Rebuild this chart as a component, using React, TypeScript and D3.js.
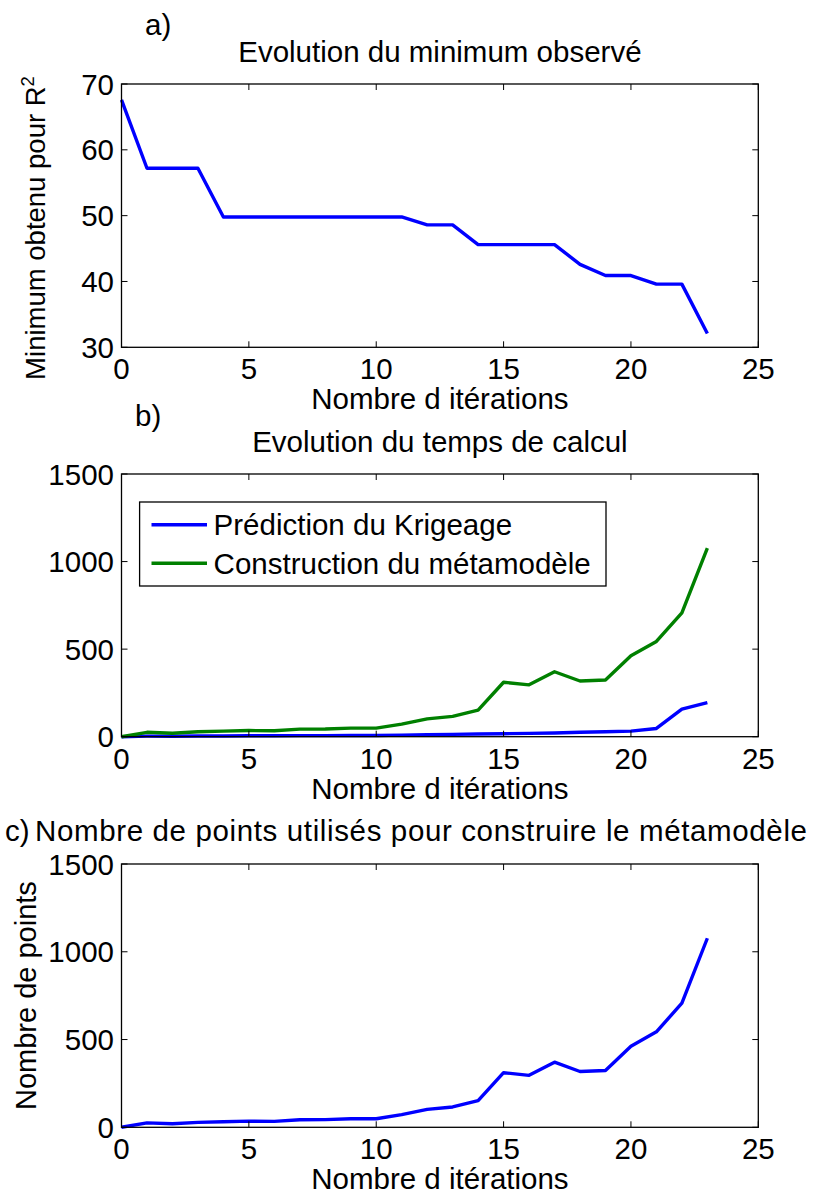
import React from "react";
import * as d3 from "d3";

const iterations = d3.range(0, 24);
const minObserved = [67.6, 57.2, 57.2, 57.2, 49.8, 49.8, 49.8, 49.8, 49.8, 49.8, 49.8, 49.8, 48.6, 48.6, 45.6, 45.6, 45.6, 45.6, 42.6, 40.9, 40.9, 39.6, 39.6, 32.1];
const krigingTime = [0, 3, 3, 4, 4, 5, 5, 6, 6, 7, 7, 9, 11, 13, 15, 17, 19, 21, 25, 28, 32, 47, 157, 195];
const buildTime = [0, 25, 20, 28, 32, 35, 34, 43, 44, 49, 49, 72, 102, 116, 152, 311, 296, 371, 318, 324, 462, 544, 707, 1077];
const nbPoints = [0, 25, 20, 28, 32, 35, 34, 43, 44, 49, 49, 72, 102, 116, 152, 311, 296, 371, 318, 324, 462, 544, 707, 1077];

const xTicks = [0, 5, 10, 15, 20, 25];
const yTicksA = [30, 40, 50, 60, 70];
const yTicksBC = [0, 500, 1000, 1500];

const FONT = "'Liberation Sans', Arial, Helvetica, sans-serif";
const FS = 29.5;
const BLUE = "#0000ff";
const GREEN = "#008000";

const X0 = 121.5;
const X1 = 758.3;

type Series = { values: number[]; color: string };

function Panel({ top, bottom, yDomain, yTicks, series }: { top: number; bottom: number; yDomain: [number, number]; yTicks: number[]; series: Series[] }) {
  const x = d3.scaleLinear().domain([0, 25]).range([X0, X1]);
  const y = d3.scaleLinear().domain(yDomain).range([bottom, top]);
  const line = (vals: number[]) =>
    d3.line<number>().x((_, i) => x(iterations[i])).y((v) => y(v))(vals) || "";
  const tl = 6;
  return (
    <g>
      {series.map((s, i) => (
        <path key={i} d={line(s.values)} fill="none" stroke={s.color} strokeWidth={3.4} strokeLinejoin="round" />
      ))}
      <rect x={X0} y={top} width={X1 - X0} height={bottom - top} fill="none" stroke="#000" strokeWidth={1.3} />
      {xTicks.map((t) => (
        <g key={"x" + t}>
          <line x1={x(t)} x2={x(t)} y1={bottom} y2={bottom - tl} stroke="#000" strokeWidth={1} />
          <line x1={x(t)} x2={x(t)} y1={top} y2={top + tl} stroke="#000" strokeWidth={1} />
          <text x={x(t)} y={bottom + 32} textAnchor="middle" fontSize={FS} fontFamily={FONT}>{t}</text>
        </g>
      ))}
      {yTicks.map((t) => (
        <g key={"y" + t}>
          <line x1={X0} x2={X0 + tl} y1={y(t)} y2={y(t)} stroke="#000" strokeWidth={1} />
          <line x1={X1} x2={X1 - tl} y1={y(t)} y2={y(t)} stroke="#000" strokeWidth={1} />
          <text x={114} y={y(t) + 10.5} textAnchor="end" fontSize={FS} fontFamily={FONT}>{t}</text>
        </g>
      ))}
      <text x={(X0 + X1) / 2} y={bottom + 62} textAnchor="middle" fontSize={FS} fontFamily={FONT}>Nombre d itérations</text>
    </g>
  );
}

export default function App() {
  const cx = (X0 + X1) / 2;
  return (
    <svg width={815} height={1197} style={{ position: "absolute", left: 0, top: 0, background: "#fff" }}>
      <rect width={815} height={1197} fill="#fff" />
      {/* Panel a */}
      <text x={145} y={35} fontSize={FS} fontFamily={FONT}>a)</text>
      <text x={cx} y={62} textAnchor="middle" fontSize={FS} fontFamily={FONT}>Evolution du minimum observé</text>
      <Panel top={84} bottom={347.3} yDomain={[30, 70]} yTicks={yTicksA} series={[{ values: minObserved, color: BLUE }]} />
      <text transform="translate(45,228) rotate(-90)" textAnchor="middle" fontSize={27.5} fontFamily={FONT}>
        Minimum obtenu pour R<tspan dy={-11} fontSize={18.5}>2</tspan>
      </text>

      {/* Panel b */}
      <text x={135} y={426} fontSize={FS} fontFamily={FONT}>b)</text>
      <text x={cx} y={452} textAnchor="middle" fontSize={FS} fontFamily={FONT}>Evolution du temps de calcul</text>
      <Panel top={474} bottom={736.7} yDomain={[0, 1500]} yTicks={yTicksBC} series={[{ values: krigingTime, color: BLUE }, { values: buildTime, color: GREEN }]} />
      <g>
        <rect x={139.6} y={502} width={466.4} height={84} fill="#fff" stroke="#000" strokeWidth={1.3} />
        <line x1={151.5} x2={207} y1={524.7} y2={524.7} stroke={BLUE} strokeWidth={3.4} />
        <text x={213.6} y={535.2} fontSize={FS} fontFamily={FONT}>Prédiction du Krigeage</text>
        <line x1={151.5} x2={207} y1={563.3} y2={563.3} stroke={GREEN} strokeWidth={3.4} />
        <text x={213.6} y={573.8} fontSize={FS} fontFamily={FONT}>Construction du métamodèle</text>
      </g>

      {/* Panel c */}
      <text x={5} y={841} fontSize={FS} fontFamily={FONT}>c)</text>
      <text x={35} y={841} fontSize={FS} fontFamily={FONT} textLength={772} lengthAdjust="spacing">Nombre de points utilisés pour construire le métamodèle</text>
      <Panel top={864} bottom={1127.3} yDomain={[0, 1500]} yTicks={yTicksBC} series={[{ values: nbPoints, color: BLUE }]} />
      <text transform="translate(36,995.6) rotate(-90)" textAnchor="middle" fontSize={29} fontFamily={FONT}>Nombre de points</text>
    </svg>
  );
}
